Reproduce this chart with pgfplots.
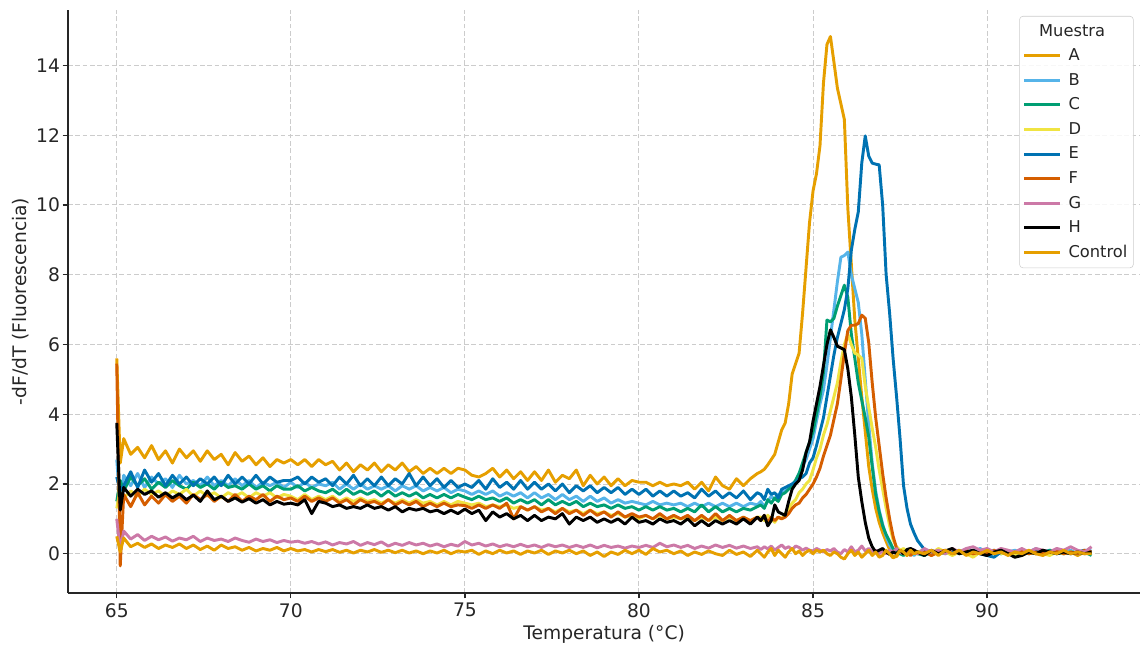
\documentclass[border=0pt]{standalone}
\usepackage{fontspec}
\setmainfont{DejaVu Sans}
\usepackage{pgfplots}
\usepackage{pgfplotstable}
\pgfplotsset{compat=1.18}
\definecolor{cA}{HTML}{E69F00}
\definecolor{cB}{HTML}{56B4E9}
\definecolor{cC}{HTML}{009E73}
\definecolor{cD}{HTML}{F0E442}
\definecolor{cE}{HTML}{0072B2}
\definecolor{cF}{HTML}{D55E00}
\definecolor{cG}{HTML}{CC79A7}
\definecolor{cH}{HTML}{000000}
\definecolor{cK}{HTML}{E69F00}
\definecolor{txt}{HTML}{262626}

\pgfplotstableread{
T A B C D E F G H K
65.0 5.60 2.70 1.50 1.30 2.20 5.45 1.00 3.75 0.50
65.1 2.60 1.40 2.10 1.85 1.80 -0.35 0.10 1.25 0.05
65.2 3.30 2.25 1.80 1.60 1.95 1.70 0.65 1.90 0.45
65.4 2.85 1.95 2.20 1.80 2.35 1.35 0.42 1.65 0.20
65.6 3.05 2.30 1.95 1.65 1.90 1.75 0.55 1.85 0.30
65.8 2.75 1.90 2.15 1.85 2.40 1.40 0.38 1.70 0.18
66.0 3.10 2.20 1.85 1.70 2.05 1.65 0.50 1.80 0.28
66.2 2.70 2.00 2.05 1.80 2.30 1.45 0.40 1.62 0.15
66.4 2.95 2.15 1.90 1.65 1.95 1.70 0.48 1.75 0.25
66.6 2.60 1.90 2.10 1.80 2.25 1.50 0.36 1.60 0.18
66.8 3.00 2.25 1.95 1.70 2.00 1.65 0.45 1.72 0.28
67.0 2.75 2.00 1.85 1.85 2.20 1.45 0.40 1.55 0.15
67.2 2.95 2.10 2.05 1.65 1.95 1.70 0.50 1.68 0.25
67.4 2.65 1.95 1.90 1.80 2.15 1.55 0.35 1.50 0.12
67.6 2.95 2.20 2.00 1.65 2.00 1.70 0.45 1.80 0.22
67.8 2.70 1.95 1.85 1.75 2.20 1.50 0.38 1.55 0.10
68.0 2.85 2.10 2.05 1.60 1.95 1.65 0.42 1.65 0.25
68.2 2.55 1.95 1.90 1.75 2.25 1.50 0.35 1.50 0.15
68.4 2.90 2.15 1.95 1.65 2.00 1.70 0.45 1.60 0.20
68.6 2.65 1.95 1.85 1.75 2.20 1.50 0.38 1.48 0.10
68.8 2.80 2.10 2.00 1.60 2.00 1.65 0.33 1.58 0.18
69.0 2.55 1.90 1.85 1.75 2.25 1.55 0.42 1.45 0.08
69.2 2.75 2.05 1.95 1.65 2.00 1.70 0.35 1.55 0.15
69.4 2.50 1.95 1.80 1.75 2.20 1.50 0.40 1.40 0.10
69.6 2.70 2.05 1.95 1.60 2.05 1.65 0.32 1.50 0.18
69.8 2.60 1.90 1.85 1.70 2.10 1.55 0.38 1.42 0.08
70.0 2.70 2.05 1.85 1.65 2.10 1.60 0.33 1.45 0.15
70.2 2.55 1.90 1.95 1.55 2.20 1.50 0.36 1.40 0.08
70.4 2.70 2.05 1.80 1.70 2.00 1.65 0.30 1.55 0.12
70.6 2.50 1.90 1.90 1.55 2.20 1.50 0.35 1.15 0.05
70.8 2.70 2.00 1.80 1.65 2.05 1.60 0.28 1.50 0.12
71.0 2.55 1.95 1.75 1.55 2.15 1.50 0.34 1.45 0.06
71.2 2.65 2.05 1.85 1.65 1.95 1.60 0.25 1.35 0.12
71.4 2.40 1.85 1.70 1.50 2.20 1.45 0.32 1.40 0.04
71.6 2.60 2.00 1.85 1.60 2.00 1.55 0.28 1.30 0.10
71.8 2.35 1.85 1.70 1.50 2.25 1.40 0.35 1.35 0.02
72.0 2.55 2.00 1.80 1.60 1.95 1.55 0.24 1.30 0.10
72.2 2.40 1.85 1.70 1.50 2.15 1.45 0.32 1.40 0.05
72.4 2.60 1.95 1.80 1.55 1.95 1.50 0.26 1.30 0.12
72.6 2.35 1.85 1.65 1.45 2.20 1.40 0.34 1.35 0.04
72.8 2.55 1.95 1.80 1.55 1.95 1.55 0.22 1.25 0.10
73.0 2.40 1.80 1.65 1.45 2.15 1.40 0.30 1.35 0.03
73.2 2.60 1.95 1.75 1.55 2.00 1.50 0.24 1.20 0.10
73.4 2.35 1.85 1.65 1.45 2.30 1.40 0.32 1.30 0.02
73.6 2.50 1.95 1.75 1.55 1.95 1.50 0.25 1.25 0.08
73.8 2.30 1.80 1.60 1.45 2.20 1.35 0.30 1.30 0.00
74.0 2.45 1.90 1.70 1.50 1.95 1.45 0.22 1.20 0.08
74.2 2.30 1.80 1.60 1.40 2.15 1.35 0.28 1.25 0.02
74.4 2.45 1.90 1.70 1.50 1.90 1.45 0.20 1.15 0.10
74.6 2.30 1.75 1.60 1.40 2.10 1.35 0.27 1.25 0.00
74.8 2.45 1.85 1.70 1.50 1.90 1.40 0.22 1.15 0.08
75.0 2.40 1.80 1.62 1.45 2.00 1.38 0.35 1.28 0.05
75.2 2.25 1.70 1.55 1.40 1.90 1.30 0.25 1.15 0.10
75.4 2.20 1.80 1.65 1.45 2.10 1.40 0.30 1.25 -0.02
75.6 2.30 1.70 1.55 1.35 1.85 1.30 0.22 0.95 0.08
75.8 2.45 1.80 1.60 1.40 2.15 1.40 0.28 1.20 0.00
76.0 2.20 1.65 1.50 1.35 1.90 1.30 0.20 1.05 0.10
76.2 2.40 1.75 1.60 1.40 2.05 1.45 0.26 1.15 0.02
76.4 2.15 1.65 1.45 1.30 1.85 1.00 0.20 1.00 0.08
76.6 2.35 1.75 1.55 1.35 2.10 1.35 0.27 1.10 -0.02
76.8 2.10 1.60 1.45 1.25 1.85 1.25 0.20 0.95 0.08
77.0 2.35 1.75 1.55 1.35 2.05 1.35 0.25 1.10 0.02
77.2 2.10 1.60 1.40 1.25 1.85 1.20 0.18 0.95 0.10
77.4 2.40 1.70 1.55 1.30 2.00 1.30 0.26 1.05 -0.02
77.6 2.05 1.55 1.40 1.20 1.80 1.15 0.20 1.00 0.08
77.8 2.25 1.70 1.50 1.30 2.00 1.30 0.25 1.15 0.02
78.0 2.15 1.55 1.40 1.20 1.75 1.15 0.18 0.85 0.10
78.2 2.40 1.65 1.50 1.25 1.95 1.25 0.24 1.05 0.00
78.4 1.95 1.50 1.35 1.15 1.80 1.10 0.18 0.95 0.08
78.6 2.25 1.65 1.45 1.25 1.95 1.25 0.25 1.05 -0.05
78.8 2.00 1.50 1.35 1.15 1.75 1.10 0.17 0.90 0.05
79.0 2.20 1.60 1.40 1.20 1.90 1.20 0.24 1.00 -0.08
79.2 1.95 1.45 1.30 1.10 1.75 1.05 0.18 0.90 0.05
79.4 2.15 1.55 1.40 1.15 1.90 1.20 0.22 1.00 -0.02
79.6 1.95 1.45 1.30 1.05 1.70 1.05 0.16 0.85 0.10
79.8 2.10 1.50 1.35 1.10 1.85 1.15 0.22 1.05 0.00
80.0 2.05 1.45 1.25 1.00 1.70 1.05 0.18 0.90 0.10
80.2 2.05 1.40 1.35 1.10 1.85 1.10 0.24 0.95 -0.02
80.4 1.95 1.50 1.25 1.00 1.65 1.00 0.18 0.85 0.15
80.6 2.05 1.40 1.35 1.10 1.80 1.15 0.30 1.00 0.05
80.8 1.95 1.45 1.25 1.00 1.65 1.00 0.20 0.90 0.10
81.0 2.00 1.40 1.30 1.05 1.80 1.10 0.25 0.95 0.00
81.2 1.95 1.45 1.20 1.00 1.65 1.00 0.18 0.85 0.08
81.4 2.05 1.35 1.30 1.05 1.75 1.10 0.24 1.00 -0.05
81.6 1.85 1.45 1.20 0.95 1.60 0.95 0.15 0.80 0.05
81.8 2.05 1.35 1.40 1.05 1.85 1.10 0.22 0.95 -0.02
82.0 1.80 1.45 1.20 0.95 1.65 0.95 0.16 0.80 0.08
82.2 2.20 1.35 1.35 1.05 1.80 1.15 0.25 0.95 0.00
82.4 1.95 1.45 1.20 0.95 1.60 0.95 0.18 0.85 -0.05
82.6 1.85 1.35 1.30 1.05 1.75 1.10 0.24 0.95 0.10
82.8 2.15 1.45 1.20 0.95 1.60 0.95 0.16 0.85 -0.02
83.0 1.95 1.35 1.30 1.05 1.80 1.05 0.22 1.00 0.05
83.2 2.15 1.45 1.25 0.95 1.55 0.95 0.15 0.85 -0.08
83.4 2.30 1.40 1.35 1.05 1.75 1.05 0.20 1.05 0.10
83.5 2.35 1.50 1.40 1.05 1.70 0.95 0.12 0.95 0.00
83.6 2.42 1.35 1.30 0.95 1.55 1.10 0.20 1.10 -0.10
83.7 2.55 1.50 1.55 1.10 1.85 0.90 0.14 0.80 0.05
83.8 2.70 1.65 1.45 1.00 1.70 1.05 0.22 0.95 0.15
83.9 2.85 1.55 1.60 0.90 1.75 0.95 0.10 1.40 -0.05
84.0 3.20 1.70 1.50 1.05 1.60 1.05 0.18 1.20 0.10
84.1 3.55 1.75 1.70 1.00 1.85 1.00 0.25 1.15 0.00
84.2 3.75 1.80 1.75 1.15 1.90 1.05 0.15 1.10 -0.10
84.3 4.30 1.90 1.85 1.30 1.95 1.15 0.20 1.50 0.05
84.4 5.15 2.00 1.95 1.45 2.00 1.30 0.12 1.85 0.15
84.5 5.45 2.10 2.10 1.55 2.05 1.40 0.22 2.00 0.00
84.6 5.75 2.30 2.30 1.75 2.15 1.45 0.18 2.10 0.08
84.7 6.90 2.50 2.60 1.85 2.20 1.60 0.10 2.40 -0.05
84.8 8.20 2.70 2.90 2.00 2.30 1.70 0.16 2.90 0.05
84.9 9.50 3.00 3.20 2.10 2.60 1.85 0.10 3.20 0.10
85.0 10.40 3.30 3.50 2.40 2.75 2.00 0.08 3.80 0.00
85.1 10.90 3.80 4.00 2.75 3.10 2.20 0.15 4.30 0.10
85.2 11.70 4.30 4.50 3.00 3.50 2.45 0.10 4.80 0.05
85.3 13.50 4.70 5.20 3.40 3.90 2.80 0.05 5.40 0.10
85.4 14.60 5.40 6.70 3.70 4.50 3.10 0.12 6.00 0.00
85.5 14.83 6.20 6.65 4.10 5.10 3.40 0.08 6.42 -0.05
85.6 14.10 7.00 6.75 4.50 5.70 3.85 0.15 6.20 0.05
85.7 13.35 7.80 7.10 4.90 6.20 4.30 0.05 5.95 0.00
85.8 12.90 8.50 7.40 5.50 6.60 5.00 0.00 5.90 -0.10
85.9 12.45 8.55 7.70 6.00 7.00 5.75 0.12 5.85 -0.15
86.0 9.90 8.65 7.35 6.30 7.60 6.40 0.05 5.30 0.00
86.1 8.30 8.00 6.30 6.00 8.70 6.55 0.20 4.50 0.10
86.2 6.70 7.60 5.60 5.75 9.30 6.55 0.05 3.40 -0.05
86.3 5.60 7.20 4.90 5.70 9.80 6.60 0.10 2.20 0.05
86.4 4.50 6.30 4.40 5.60 11.20 6.84 0.22 1.50 -0.10
86.5 3.50 5.00 3.90 4.80 11.98 6.75 0.08 0.90 0.00
86.6 2.50 3.70 3.35 4.20 11.40 6.05 0.15 0.45 0.10
86.7 1.85 2.60 2.50 3.60 11.20 4.90 0.05 0.20 -0.05
86.8 1.30 1.80 1.70 3.05 11.17 3.90 0.10 0.05 0.05
86.9 0.90 1.25 1.20 2.40 11.15 3.10 0.00 0.10 -0.10
87.0 0.60 0.85 0.80 1.85 10.00 2.30 0.08 0.15 -0.05
87.1 0.35 0.50 0.55 1.30 8.00 1.60 0.00 0.05 0.10
87.2 0.12 0.25 0.35 0.80 6.90 1.00 0.10 -0.02 0.00
87.3 -0.10 0.10 0.15 0.40 5.60 0.50 0.05 0.05 -0.12
87.4 -0.08 0.05 0.05 0.20 4.50 0.15 0.15 0.00 -0.05
87.5 0.05 0.00 0.00 0.10 3.30 0.05 0.05 0.10 0.10
87.6 0.10 0.05 -0.05 0.15 1.95 0.00 0.00 0.00 0.05
87.7 -0.05 0.00 0.05 0.05 1.30 0.05 0.10 0.12 -0.05
87.8 0.08 0.05 0.00 0.10 0.85 -0.05 0.05 0.15 0.10
87.9 0.00 -0.05 0.05 0.00 0.60 0.05 0.12 0.10 0.00
88.0 0.05 0.05 0.00 0.05 0.38 0.00 0.00 0.05 0.05
88.2 0.10 0.05 -0.05 0.10 0.12 0.05 0.15 -0.05 0.00
88.4 -0.05 0.00 0.05 0.00 0.05 -0.05 0.05 0.10 0.10
88.6 0.05 0.10 0.00 0.15 0.00 0.05 0.10 0.00 -0.05
88.8 0.00 0.00 0.05 0.05 0.05 0.10 0.00 0.08 0.10
89.0 0.10 0.05 0.00 -0.05 0.10 0.00 0.15 0.15 0.00
89.2 0.00 0.10 0.05 0.05 0.00 0.05 0.05 0.00 0.10
89.4 0.05 0.00 0.10 0.00 0.05 0.10 0.15 0.05 -0.05
89.6 -0.05 0.05 0.00 -0.10 0.10 0.00 0.20 0.10 0.05
89.8 0.05 0.15 0.05 0.05 0.00 0.05 0.10 0.00 0.00
90.0 0.00 0.05 -0.05 0.00 -0.05 0.00 0.15 -0.05 0.10
90.2 0.05 0.10 0.05 0.05 -0.10 0.10 0.05 0.05 0.00
90.4 0.10 0.00 0.00 0.00 0.05 0.05 0.15 0.10 0.05
90.6 0.00 0.05 0.05 0.10 0.00 0.00 0.10 0.00 -0.05
90.8 0.05 0.10 0.00 -0.05 0.05 0.05 0.05 -0.10 0.05
91.0 -0.05 0.00 0.05 0.05 0.00 0.10 0.15 -0.05 0.00
91.2 0.05 0.05 0.00 0.00 0.05 0.00 0.05 0.05 0.10
91.4 0.00 0.15 0.05 0.10 0.10 0.05 0.15 0.00 0.00
91.6 0.10 0.05 0.00 0.00 0.00 0.00 0.10 0.10 -0.05
91.8 0.00 0.10 0.10 -0.05 0.05 0.05 0.05 0.05 0.05
92.0 0.05 0.00 0.05 0.05 0.00 0.10 0.15 0.00 0.00
92.2 0.00 0.05 0.00 0.00 0.05 0.00 0.10 0.05 0.10
92.4 0.05 0.10 0.05 0.05 0.00 0.05 0.20 0.00 0.00
92.6 -0.05 0.00 0.00 0.00 0.05 0.00 0.10 0.05 0.05
92.8 0.05 0.05 0.05 0.05 0.10 0.10 0.05 0.00 0.00
93.0 0.00 0.10 -0.05 0.00 0.05 0.05 0.20 0.05 0.00
}\datatable

\begin{document}
\begin{tikzpicture}
\begin{axis}[
  scale only axis,
  width=804pt, height=437.25pt,
  xmin=63.6, xmax=94.4, ymin=-1.13, ymax=15.59,
  axis x line*=bottom, axis y line*=left,
  axis line style={line width=1.1pt, color=txt},
  xtick={65,70,...,90}, ytick={0,2,...,14},
  tick align=outside, major tick length=4pt,
  tick style={line width=1pt, color=txt},
  grid=major,
  grid style={line width=0.7pt, color=black!20, dash pattern=on 3.5pt off 2pt},
  /pgf/number format/assume math mode=true,
  ticklabel style={font=\fontsize{14}{16}\selectfont, color=txt},
  yticklabel style={xshift=1.5pt},
  every axis y label/.style={at={(axis description cs:-0.0438,0.5)}, rotate=90, anchor=center,
    font=\fontsize{14}{16}\selectfont, color=txt},
  every axis x label/.style={at={(axis description cs:0.5,-0.0703)}, anchor=center,
    font=\fontsize{14}{16}\selectfont, color=txt},
  xlabel={Temperatura (°C)},
  ylabel={-dF/dT (Fluorescencia)},
  no markers,
  every axis plot/.append style={line width=2.2pt, line join=round},
  legend cell align=left,
  legend image code/.code={\draw[#1] (0pt,0pt) -- (27pt,0pt);},
  legend style={at={(axis description cs:1,1)}, anchor=north east,
    xshift=-5pt, yshift=-4.5pt, draw=black!20, rounded corners=2.5pt,
    fill=white, fill opacity=0.85, text opacity=1,
    font=\fontsize{12.2}{14.5}\selectfont, text=txt,
    row sep=4pt, inner xsep=2.5pt, inner ysep=4pt,
    /tikz/every odd column/.append style={column sep=3pt}},
]
\addlegendimage{empty legend}
\addlegendentry{\hspace*{-22pt}Muestra}
\addplot[color=cA] table[x=T,y=A]{\datatable};
\addlegendentry{A}
\addplot[color=cB] table[x=T,y=B]{\datatable};
\addlegendentry{B}
\addplot[color=cC] table[x=T,y=C]{\datatable};
\addlegendentry{C}
\addplot[color=cD] table[x=T,y=D]{\datatable};
\addlegendentry{D}
\addplot[color=cE] table[x=T,y=E]{\datatable};
\addlegendentry{E}
\addplot[color=cF] table[x=T,y=F]{\datatable};
\addlegendentry{F}
\addplot[color=cG] table[x=T,y=G]{\datatable};
\addlegendentry{G}
\addplot[color=cH] table[x=T,y=H]{\datatable};
\addlegendentry{H}
\addplot[color=cK] table[x=T,y=K]{\datatable};
\addlegendentry{Control}
\end{axis}
\path ([yshift=7.5pt]current axis.north);
\path ([xshift=-51pt]current axis.west);
\path ([yshift=-38.25pt]current axis.south);
\end{tikzpicture}
\end{document}
